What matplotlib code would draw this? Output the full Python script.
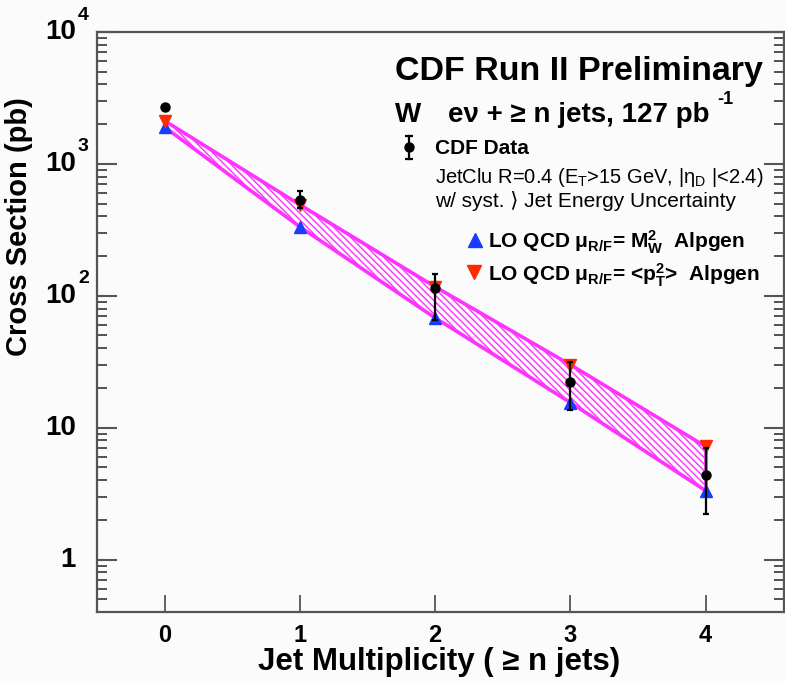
import matplotlib
matplotlib.use("Agg")
import matplotlib.pyplot as plt
import numpy as np
from matplotlib.ticker import FixedLocator, NullFormatter, LogLocator

plt.rcParams['font.family'] = ['Liberation Sans', 'DejaVu Sans']
plt.rcParams['mathtext.fontset'] = 'custom'
plt.rcParams['mathtext.rm'] = 'Liberation Sans'
plt.rcParams['mathtext.it'] = 'Liberation Sans'
plt.rcParams['mathtext.bf'] = 'Liberation Sans:bold'
plt.rcParams['mathtext.default'] = 'regular'
plt.rcParams['hatch.linewidth'] = 1.0

# ---- data ----
n_jets = [0, 1, 2, 3, 4]
data_xs = [2700, 530, 115, 22.3, 4.4]
data_err_up = [0, 95, 32, 9, 2.6]
data_err_dn = [0, 70, 49, 8.8, 2.2]
lo_mw2 = [1900, 333, 68, 15.5, 3.33]      # blue, mu = M_W^2
lo_pt2 = [2120, 490, 117, 30, 7.2]        # red, mu = <pT^2>
x_ticks = [0, 1, 2, 3, 4]
y_major = [1, 10, 100, 1000, 10000]
y_labels = ['1', '10', '10', '10', '10']
y_sups = ['', '', '2', '3', '4']

W, H = 785, 684
fig = plt.figure(figsize=(W / 100, H / 100), dpi=100)
fig.patch.set_facecolor('#fbfbfb')
ax = fig.add_axes([97 / W, 1 - 612 / H, (784 - 97) / W, (612 - 32) / H])
ax.set_facecolor('#fbfbfb')
ax.set_yscale('log')
ax.set_xlim(-0.5, 4.58)
ax.set_ylim(0.4, 1e4)

BLUE = '#1a3cff'
RED = '#ff2a00'
MAG = '#ff33ff'

# band between the two LO predictions
xs = np.array(n_jets, dtype=float)
poly_x = np.concatenate([xs, xs[::-1]])
poly_y = np.concatenate([lo_pt2, lo_mw2[::-1]])
ax.fill(poly_x, poly_y, facecolor='none', edgecolor=MAG, hatch='\\' * 5,
        linewidth=0, zorder=2)
ax.plot(xs, lo_pt2, color=MAG, lw=2.6, zorder=3)
ax.plot(xs, lo_mw2, color=MAG, lw=2.6, zorder=3)
ax.plot([xs[-1], xs[-1]], [lo_mw2[-1], lo_pt2[-1]], color=MAG, lw=2.6, zorder=3)

ax.plot(xs, lo_mw2, ls='none', marker='^', ms=9, color=BLUE, zorder=4)
ax.plot(xs, lo_pt2, ls='none', marker='v', ms=9, color=RED, zorder=4)
ax.errorbar(xs, data_xs, yerr=[data_err_dn, data_err_up], fmt='o', color='black',
            ms=6.5, elinewidth=1.6, capsize=2.5, capthick=1.6, zorder=5)

# axes styling
for s in ax.spines.values():
    s.set_color('#555555')
    s.set_linewidth(1.6)
ax.xaxis.set_major_locator(FixedLocator(x_ticks))
ax.tick_params(axis='x', which='major', direction='in', length=12, width=1.3,
               color='#555555', labelsize=17, pad=9, top=False)
for lab in ax.get_xticklabels():
    lab.set_fontweight('bold')
ax.yaxis.set_major_locator(FixedLocator(y_major))
ax.yaxis.set_minor_locator(LogLocator(base=10, subs=np.arange(2, 10)))
ax.yaxis.set_major_formatter(NullFormatter())
ax.yaxis.set_minor_formatter(NullFormatter())
ax.tick_params(axis='y', which='major', direction='in', length=14.5, width=1.5,
               color='#555555', left=True, right=True)
ax.tick_params(axis='y', which='minor', direction='in', length=7, width=1.3,
               color='#444444', left=True, right=True)

ytr = ax.get_yaxis_transform()
for yv, lab, sup in zip(y_major, y_labels, y_sups):
    ax.annotate(lab, xy=(0, yv), xycoords=ytr, xytext=(-21, 0), textcoords='offset pixels',
                ha='right', va='center', fontsize=20, fontweight='bold')
    if sup:
        ax.annotate(sup, xy=(0, yv), xycoords=ytr, xytext=(-19, 17), textcoords='offset pixels',
                    ha='left', va='center', fontsize=14, fontweight='bold')

def px(x, y):
    return x / W, 1 - y / H

fig.text(*px(258, 670), 'Jet Multiplicity ( \u2265 n jets)', fontsize=22.5,
         fontweight='bold', ha='left', va='baseline')
fig.text(*px(33, 97), 'Cross Section (pb)', fontsize=21, fontweight='bold',
         rotation=90, ha='right', va='top')

fig.text(*px(395, 80), 'CDF Run II Preliminary', fontsize=24.5, fontweight='bold',
         ha='left', va='baseline')
fig.text(*px(395, 122), 'W', fontsize=20, fontweight='bold', ha='left', va='baseline')
fig.text(*px(448, 122), 'e\u03bd + \u2265 n jets, 127 pb', fontsize=20,
         fontweight='bold', ha='left', va='baseline')
fig.text(*px(717, 104), '-1', fontsize=13, fontweight='bold', ha='left', va='baseline')

# legend: data symbol
lx, ly = px(409, 147)
fig.add_artist(plt.Line2D([lx, lx], [px(0, 136)[1], px(0, 159)[1]], color='black', lw=1.6))
fig.add_artist(plt.Line2D([lx], [px(0, 136)[1]], marker='_', ms=6, mew=1.6, color='black'))
fig.add_artist(plt.Line2D([lx], [px(0, 159)[1]], marker='_', ms=6, mew=1.6, color='black'))
fig.add_artist(plt.Line2D([lx], [ly], marker='o', ms=6.5, color='black'))
fig.text(*px(435, 154), 'CDF Data', fontsize=15, fontweight='bold', ha='left', va='baseline')
fig.text(*px(435, 183), r'JetClu R=0.4 (E$_{T}$>15 GeV, |$\eta_{D}$ |<2.4)', fontsize=14.5,
         ha='left', va='baseline')
fig.text(*px(435, 207), 'w/ syst. \u27e9 Jet Energy Uncertainty', fontsize=15,
         ha='left', va='baseline')

fig.add_artist(plt.Line2D([px(475, 0)[0]], [px(0, 240)[1]], marker='^', ms=10, color=BLUE))
fig.add_artist(plt.Line2D([px(474, 0)[0]], [px(0, 272)[1]], marker='v', ms=10, color=RED))
fig.text(*px(488, 248), r'LO QCD $\mu_{R/F}$= M$_{W}^{2}$  Alpgen', fontsize=15,
         fontweight='bold', ha='left', va='baseline')
fig.text(*px(488, 281), r'LO QCD $\mu_{R/F}$= <p$_{T}^{2}$>  Alpgen', fontsize=15,
         fontweight='bold', ha='left', va='baseline')

fig.savefig('out.png', dpi=100, facecolor=fig.get_facecolor())
